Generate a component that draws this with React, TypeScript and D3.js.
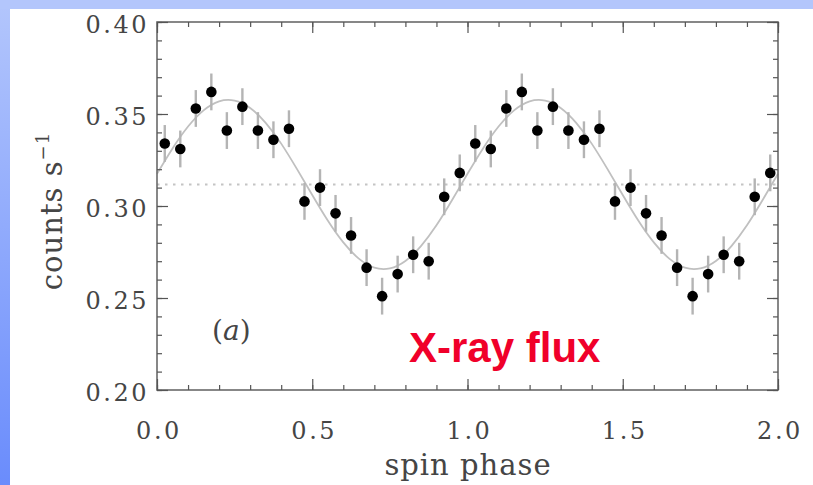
import React, { useEffect, useRef } from "react";
import * as d3 from "d3";

// binned points, one cycle (phase centres 0.025 .. 0.975)
const binPhases = [
  0.025, 0.075, 0.125, 0.175, 0.225, 0.275, 0.325, 0.375, 0.425, 0.475,
  0.525, 0.575, 0.625, 0.675, 0.725, 0.775, 0.825, 0.875, 0.925, 0.975,
];
const binCounts = [
  0.334, 0.331, 0.353, 0.362, 0.341, 0.354, 0.341, 0.336, 0.342, 0.3025,
  0.310, 0.296, 0.284, 0.2665, 0.251, 0.263, 0.2735, 0.270, 0.305, 0.318,
];
const binErrors = [
  0.01, 0.01, 0.01, 0.01, 0.01, 0.01, 0.01, 0.01, 0.01, 0.01,
  0.01, 0.01, 0.01, 0.01, 0.01, 0.01, 0.01, 0.01, 0.01, 0.01,
];

// fitted model, one cycle at 0.05 steps
const modelPhases = [
  0, 0.05, 0.1, 0.15, 0.2, 0.25, 0.3, 0.35, 0.4, 0.45,
  0.5, 0.55, 0.6, 0.65, 0.7, 0.75, 0.8, 0.85, 0.9, 0.95,
];
const modelCounts = [
  0.3175, 0.3313, 0.3432, 0.352, 0.3569, 0.3573, 0.3533, 0.3452, 0.3339, 0.3203,
  0.306, 0.2921, 0.2802, 0.2714, 0.2665, 0.2661, 0.2701, 0.2782, 0.2895, 0.3031,
];
const meanLevel = 0.3117;

const xTickLabels = ["0.0", "0.5", "1.0", "1.5", "2.0"];
const yTickLabels = ["0.20", "0.25", "0.30", "0.35", "0.40"];

const W = 813;
const H = 485;
const margin = { left: 157, right: 35, top: 22, bottom: 95 };
const textColor = "#454545";

const App = () => {
  const ref = useRef<SVGGElement>(null);

  useEffect(() => {
    document.body.style.margin = "0";
    const g = d3.select(ref.current);
    g.selectAll("*").remove();

    const iw = W - margin.left - margin.right;
    const ih = H - margin.top - margin.bottom;
    const x = d3.scaleLinear().domain([0, 2]).range([0, iw]);
    const y = d3.scaleLinear().domain([0.2, 0.4]).range([ih, 0]);

    const plot = g.append("g").attr("transform", `translate(${margin.left},${margin.top})`);

    // two cycles of the same data
    const points = [0, 1].flatMap((c) =>
      binPhases.map((p, i) => ({ p: p + c, v: binCounts[i], e: binErrors[i] }))
    );
    const model = [0, 1].flatMap((c) =>
      modelPhases.map((p, i) => ({ p: p + c, v: modelCounts[i] }))
    );
    model.push({ p: 2, v: modelCounts[0] });

    // dotted mean level
    plot
      .append("line")
      .attr("x1", x(0))
      .attr("x2", x(2))
      .attr("y1", y(meanLevel))
      .attr("y2", y(meanLevel))
      .attr("stroke", "#c4c4c4")
      .attr("stroke-width", 2)
      .attr("stroke-dasharray", "2.5,5.5");

    // model curve
    plot
      .append("path")
      .datum(model)
      .attr("fill", "none")
      .attr("stroke", "#c0c0c0")
      .attr("stroke-width", 1.8)
      .attr(
        "d",
        d3
          .line<{ p: number; v: number }>()
          .x((d) => x(d.p))
          .y((d) => y(d.v))
          .curve(d3.curveNatural)
      );

    // error bars
    plot
      .append("g")
      .selectAll("line")
      .data(points)
      .enter()
      .append("line")
      .attr("x1", (d) => x(d.p))
      .attr("x2", (d) => x(d.p))
      .attr("y1", (d) => y(d.v - d.e))
      .attr("y2", (d) => y(d.v + d.e))
      .attr("stroke", "#b4b4b4")
      .attr("stroke-width", 2.4);

    plot
      .append("g")
      .selectAll("circle")
      .data(points)
      .enter()
      .append("circle")
      .attr("cx", (d) => x(d.p))
      .attr("cy", (d) => y(d.v))
      .attr("r", 5.3)
      .attr("fill", "#000");

    // frame
    plot
      .append("rect")
      .attr("width", iw)
      .attr("height", ih)
      .attr("fill", "none")
      .attr("stroke", "#6a6a6a")
      .attr("stroke-width", 1.6);

    const tickStyle = (sel: any) => {
      sel.select(".domain").remove();
      sel.selectAll(".tick line").attr("stroke", "#555").attr("stroke-width", 1.2);
    };
    const noLabels = () => "";

    // minor ticks, all four sides
    plot.append("g").attr("transform", `translate(0,${ih})`)
      .call(d3.axisBottom(x).ticks(20).tickSize(-5).tickFormat(noLabels)).call(tickStyle);
    plot.append("g")
      .call(d3.axisTop(x).ticks(20).tickSize(-5).tickFormat(noLabels)).call(tickStyle);
    plot.append("g")
      .call(d3.axisLeft(y).ticks(20).tickSize(-5).tickFormat(noLabels)).call(tickStyle);
    plot.append("g").attr("transform", `translate(${iw},0)`)
      .call(d3.axisRight(y).ticks(20).tickSize(-5).tickFormat(noLabels)).call(tickStyle);

    // major ticks
    const xb = plot.append("g").attr("transform", `translate(0,${ih})`)
      .call(
        d3.axisBottom(x).tickValues(xTickLabels.map(Number)).tickSize(-11).tickPadding(32)
          .tickFormat((d, i) => xTickLabels[i])
      )
      .call(tickStyle);
    plot.append("g")
      .call(d3.axisTop(x).tickValues(xTickLabels.map(Number)).tickSize(-11).tickFormat(noLabels))
      .call(tickStyle);
    const yl = plot.append("g")
      .call(
        d3.axisLeft(y).tickValues(yTickLabels.map(Number)).tickSize(-11).tickPadding(8)
          .tickFormat((d, i) => yTickLabels[i])
      )
      .call(tickStyle);
    plot.append("g").attr("transform", `translate(${iw},0)`)
      .call(d3.axisRight(y).tickValues(yTickLabels.map(Number)).tickSize(-11).tickFormat(noLabels))
      .call(tickStyle);

    [xb, yl].forEach((a) =>
      a
        .selectAll("text")
        .attr("font-family", "'DejaVu Serif', serif")
        .attr("font-size", 24)
        .attr("letter-spacing", 2.5)
        .attr("fill", textColor)
    );
    yl.selectAll("text").attr("dy", "0.45em");
    xb.selectAll("text").attr("dx", "0.06em");
  }, []);

  return (
    <svg width={W} height={H} style={{ display: "block" }}>
      <defs>
        <linearGradient id="edge" x1="0" y1="0" x2="0" y2="1">
          <stop offset="0" stopColor="#b3c6fc" />
          <stop offset="1" stopColor="#6a8cfc" />
        </linearGradient>
      </defs>
      <rect width={W} height={H} fill="url(#edge)" />
      <rect width={W} height={9} fill="#b3c6fc" />
      <rect x={10} y={9} width={W - 10} height={H - 9} fill="#fff" />
      <g ref={ref} />
      <text
        transform="translate(62,211) rotate(-90)"
        textAnchor="middle"
        fontFamily="'DejaVu Serif', serif"
        fontSize={29}
        fill={textColor}
        letterSpacing={1}
      >
        counts s<tspan fontSize={18} dy={-13}>−1</tspan>
      </text>
      <text
        x={468}
        y={475}
        textAnchor="middle"
        fontFamily="'DejaVu Serif', serif"
        fontSize={29}
        fill={textColor}
        letterSpacing={1}
      >
        spin phase
      </text>
      <text x={212} y={340} fontFamily="'DejaVu Serif', serif" fontSize={28} fill={textColor}>
        (<tspan fontStyle="italic">a</tspan>)
      </text>
      <text
        x={409}
        y={362}
        fontFamily="'Liberation Sans', Arial, sans-serif"
        fontWeight="bold"
        fontSize={42}
        fill="#f0002a"
      >
        X-ray flux
      </text>
    </svg>
  );
};

export default App;
